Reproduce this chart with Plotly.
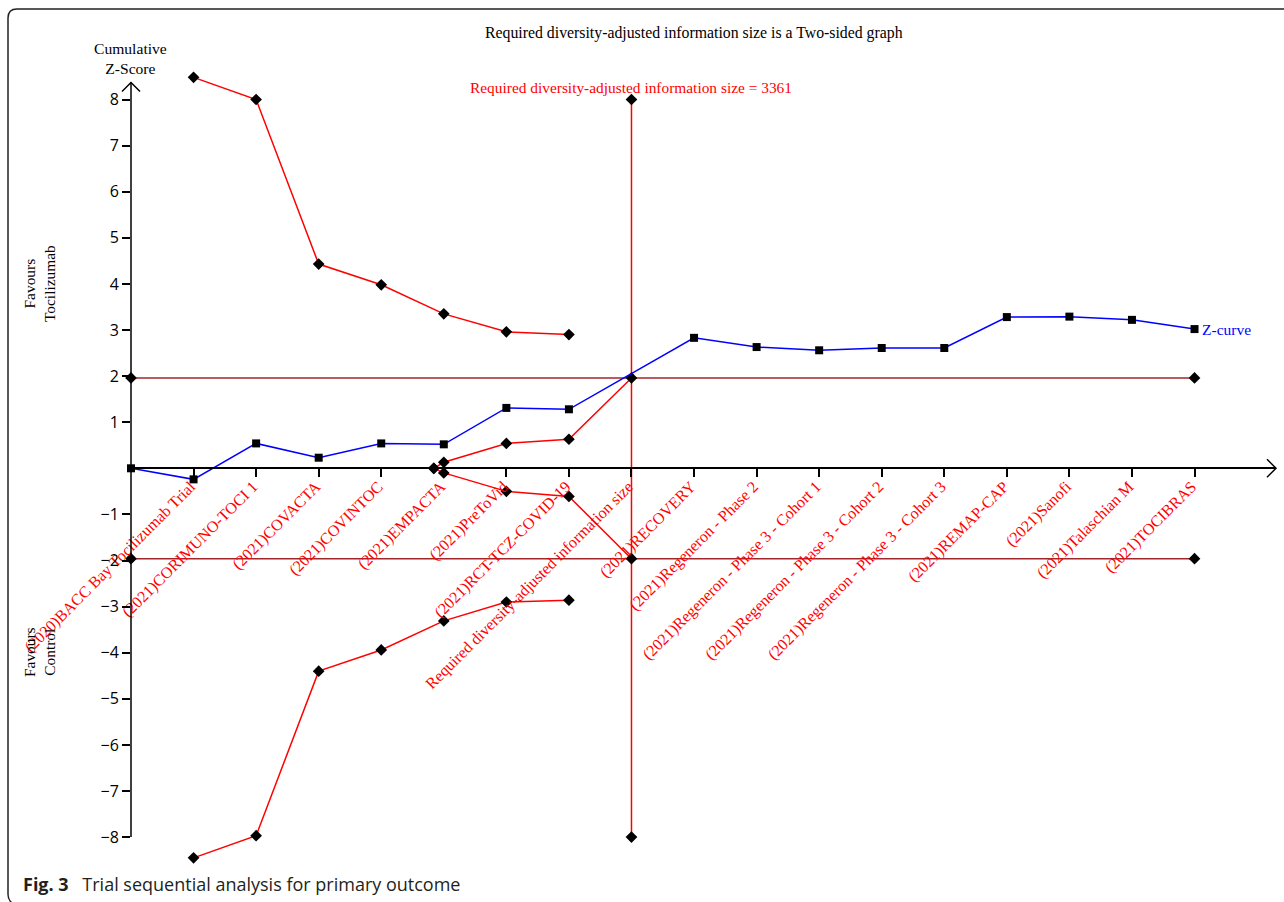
import plotly.graph_objects as go

# ---- data ----------------------------------------------------------------
trial_labels = [
    "(2020)BACC Bay Tocilizumab Trial",
    "(2021)CORIMUNO-TOCI 1",
    "(2021)COVACTA",
    "(2021)COVINTOC",
    "(2021)EMPACTA",
    "(2021)PreToVid",
    "(2021)RCT-TCZ-COVID-19",
    "Required diversity-adjusted information size",
    "(2021)RECOVERY",
    "(2021)Regeneron - Phase 2",
    "(2021)Regeneron - Phase 3 - Cohort 1",
    "(2021)Regeneron - Phase 3 - Cohort 2",
    "(2021)Regeneron - Phase 3 - Cohort 3",
    "(2021)REMAP-CAP",
    "(2021)Sanofi",
    "(2021)Talaschian M",
    "(2021)TOCIBRAS",
]
label_pos = list(range(1, 18))

# cumulative Z-curve
z_x = [0, 1, 2, 3, 4, 5, 6, 7, 9, 10, 11, 12, 13, 14, 15, 16, 17]
z_val = [0.0, -0.24, 0.54, 0.23, 0.54, 0.52, 1.31, 1.28,
         2.83, 2.63, 2.56, 2.61, 2.61, 3.28, 3.29, 3.22, 3.02]

# monitoring (alpha-spending) boundaries
bound_x = [1, 2, 3, 4, 5, 6, 7]
upper_bound = [8.48, 8.00, 4.43, 3.98, 3.35, 2.96, 2.90]
lower_bound = [-8.45, -7.97, -4.40, -3.94, -3.31, -2.90, -2.86]

# futility (beta-spending) boundaries
futil_x = [4.84, 5, 6, 7, 8]
futil_upper = [0.0, 0.13, 0.54, 0.63, 1.96]
futil_lower = [0.0, -0.10, -0.50, -0.61, -1.96]

# required information size marker
ris_x = 8
ris_span = [-8.0, 8.0]
ris_value = 3361

# conventional significance lines
conv_x = [0, 17]
conv_z = 1.96

y_ticks = [-8, -7, -6, -5, -4, -3, -2, -1, 1, 2, 3, 4, 5, 6, 7, 8]

# ---- layout geometry -----------------------------------------------------
W, H = 1284, 902
L, R, T, B = 131, 1276, 60, 870
X_RANGE = [0, (R - L) / 62.56]
Y_RANGE = [(468.3 - B) / 46.1, (468.3 - T) / 46.1]


def px(xp):
    return (xp - L) / (R - L)


def py(yp):
    return (B - yp) / (B - T)


def dx(xd):
    return (xd - X_RANGE[0]) / (X_RANGE[1] - X_RANGE[0])


def dy(yd):
    return (yd - Y_RANGE[0]) / (Y_RANGE[1] - Y_RANGE[0])


SERIF = "Liberation Serif"
SANS = "Open Sans"
RED = "#ff0000"
DARKRED = "#a0262a"

diamond = dict(symbol="diamond", size=9, color="black")
square = dict(symbol="square", size=8, color="black")

fig = go.Figure()

# conventional boundaries +/-1.96
for sgn in (1, -1):
    fig.add_trace(go.Scatter(
        x=conv_x, y=[sgn * conv_z] * 2, mode="lines+markers",
        line=dict(color=DARKRED, width=1.5), marker=diamond, cliponaxis=False))

# required information size
fig.add_trace(go.Scatter(
    x=[ris_x, ris_x], y=ris_span, mode="lines+markers",
    line=dict(color=RED, width=1.5), marker=diamond, cliponaxis=False))

# futility
fig.add_trace(go.Scatter(
    x=futil_x, y=futil_upper, mode="lines+markers",
    line=dict(color=RED, width=1.5), marker=diamond, cliponaxis=False))
fig.add_trace(go.Scatter(
    x=futil_x, y=futil_lower, mode="lines+markers",
    line=dict(color=RED, width=1.5), marker=diamond, cliponaxis=False))

# monitoring boundaries
fig.add_trace(go.Scatter(
    x=bound_x, y=upper_bound, mode="lines+markers",
    line=dict(color=RED, width=1.5), marker=diamond, cliponaxis=False))
fig.add_trace(go.Scatter(
    x=bound_x, y=lower_bound, mode="lines+markers",
    line=dict(color=RED, width=1.5), marker=diamond, cliponaxis=False))

# Z-curve
fig.add_trace(go.Scatter(
    x=z_x, y=z_val, mode="lines+markers",
    line=dict(color="#0000ff", width=1.5), marker=square, cliponaxis=False))

# axis lines with open arrow heads (paper refs so they are not clipped)
arm_x, arm_y = 9 / (R - L), 9 / (B - T)
y_top = 8.37
x0p, ytp = dx(0), dy(y_top)
xtp, y0p = 1.0, dy(0)
axis_line = dict(color="black", width=1.5)
shapes = [
    dict(type="line", xref="paper", yref="paper", x0=x0p, x1=x0p,
         y0=dy(-8), y1=ytp, line=axis_line),
    dict(type="path", xref="paper", yref="paper",
         path=f"M {x0p - arm_x},{ytp - arm_y} L {x0p},{ytp} L {x0p + arm_x},{ytp - arm_y}",
         line=axis_line),
    dict(type="path", xref="paper", yref="paper",
         path=f"M {xtp - arm_x},{y0p + arm_y} L {xtp},{y0p} L {xtp - arm_x},{y0p - arm_y}",
         line=axis_line),
    # figure frame
    dict(type="path", xref="paper", yref="paper",
         path=(f"M {px(1290)},{py(9)} L {px(17)},{py(9)} "
               f"Q {px(8)},{py(9)} {px(8)},{py(18)} "
               f"L {px(8)},{py(894)} Q {px(8)},{py(900)} {px(12)},{py(903)}"),
         line=dict(color="#222222", width=1.5)),
]

annotations = [
    dict(text="Required diversity-adjusted information size is a Two-sided graph",
         xref="paper", yref="paper", x=px(694), y=py(33),
         xanchor="center", yanchor="middle", showarrow=False,
         font=dict(family=SERIF, size=15.8, color="black")),
    dict(text="Cumulative<br>Z-Score", xref="paper", yref="paper",
         x=px(130), y=py(59), xanchor="center", yanchor="middle",
         showarrow=False, font=dict(family=SERIF, size=15.6, color="black")),
    dict(text="Favours<br>Tocilizumab", xref="paper", yref="paper",
         x=px(39), y=py(284), xanchor="center", yanchor="middle",
         textangle=-90, showarrow=False,
         font=dict(family=SERIF, size=15.4, color="black")),
    dict(text="Favours<br>Control", xref="paper", yref="paper",
         x=px(39), y=py(652), xanchor="center", yanchor="middle",
         textangle=-90, showarrow=False,
         font=dict(family=SERIF, size=15.4, color="black")),
    dict(text=f"Required diversity-adjusted information size = {ris_value}",
         xref="x", yref="y", x=ris_x, y=ris_span[1], yshift=12,
         xanchor="center", yanchor="middle", showarrow=False,
         font=dict(family=SERIF, size=15.4, color=RED)),
    dict(text="Z-curve", xref="x", yref="y", x=z_x[-1], y=z_val[-1],
         xshift=5, xanchor="left", yanchor="middle", showarrow=False,
         font=dict(family=SERIF, size=15.5, color="#0000ff")),
    dict(text="<b>Fig. 3</b>\u2002 Trial sequential analysis for primary outcome",
         xref="paper", yref="paper", x=px(21), y=py(884),
         xanchor="left", yanchor="middle", showarrow=False,
         font=dict(family=SANS, size=18, color="#231f20")),
]

fig.update_layout(
    width=W, height=H,
    margin=dict(l=L, r=W - R, t=T, b=H - B, pad=0),
    paper_bgcolor="white", plot_bgcolor="white",
    showlegend=False,
    shapes=shapes, annotations=annotations,
    xaxis=dict(
        range=X_RANGE, showgrid=False, zeroline=False,
        anchor="free", position=dy(0),
        showline=True, linecolor="black", linewidth=1.5,
        tickmode="array", tickvals=label_pos, ticktext=trial_labels,
        tickangle=-45, ticks="outside", ticklen=8, tickwidth=1.5,
        tickcolor="black", automargin=False,
        ticklabelstandoff=-6, ticklabelshift=-3,
        tickfont=dict(family=SERIF, size=16, color=RED),
    ),
    yaxis=dict(
        range=Y_RANGE, showgrid=False, zeroline=False, showline=False,
        tickmode="array", tickvals=y_ticks,
        ticks="outside", ticklen=8, tickwidth=1.5, tickcolor="black",
        automargin=False,
        tickfont=dict(family=SANS, size=16, color="black"),
    ),
)

fig.write_html("out.html")
